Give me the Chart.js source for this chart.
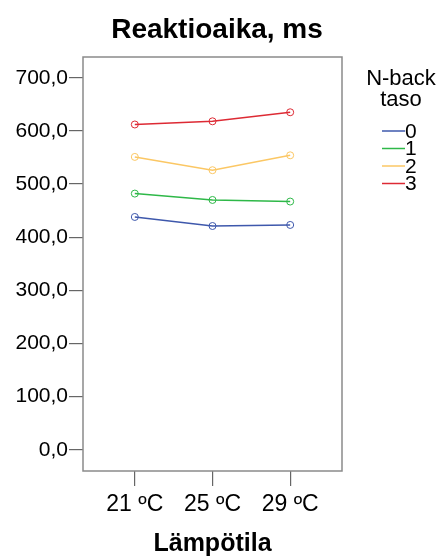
<!DOCTYPE html>
<html>
<head>
<meta charset="utf-8">
<script src="https://cdn.jsdelivr.net/npm/chart.js@4.4.1/dist/chart.umd.min.js"></script>
<style>
html,body{margin:0;padding:0;background:#fff;}
#c{display:block;}
</style>
</head>
<body>
<canvas id="c" width="443" height="559"></canvas>
<script>
const categories = ['21 ºC', '25 ºC', '29 ºC'];
const seriesNames = ['0', '1', '2', '3'];
const nback0 = [438, 421, 423];
const nback1 = [482, 470, 467];
const nback2 = [551, 526, 554];
const nback3 = [612, 618, 635];
const yTickValues = [0, 100, 200, 300, 400, 500, 600, 700];
const seriesColors = ['#3E58AC', '#2EB848', '#FBC764', '#DD2A34'];

const FONT = "'Liberation Sans', Arial, sans-serif";
const allSeries = [nback0, nback1, nback2, nback3];

const datasets = allSeries.map((vals, i) => ({
  label: seriesNames[i],
  data: vals.map((v, j) => ({x: j, y: v})),
  borderColor: seriesColors[i],
  borderWidth: 1.5,
  pointRadius: 3.5,
  pointBorderWidth: 1,
  pointBorderColor: seriesColors[i],
  pointBackgroundColor: 'rgba(255,255,255,0)',
  tension: 0,
  fill: false
}));

const decor = {
  id: 'decor',
  afterDraw(chart) {
    const ctx = chart.ctx;
    const a = chart.chartArea;
    ctx.save();
    // frame
    ctx.strokeStyle = '#8a8a8a';
    ctx.lineWidth = 1.5;
    ctx.strokeRect(a.left, a.top, a.right - a.left, a.bottom - a.top);
    // title
    ctx.fillStyle = '#000';
    ctx.font = 'bold 28px ' + FONT;
    ctx.textAlign = 'center';
    ctx.textBaseline = 'middle';
    ctx.fillText('Reaktioaika, ms', 217, 30);
    // legend header
    ctx.font = '22px ' + FONT;
    ctx.fillText('N-back', 401, 79);
    ctx.fillText('taso', 401, 100);
    // legend items
    const ys = [131, 148.5, 166, 183.5];
    seriesNames.forEach((n, i) => {
      ctx.strokeStyle = seriesColors[i];
      ctx.lineWidth = 1.5;
      ctx.beginPath();
      ctx.moveTo(382, ys[i]);
      ctx.lineTo(405, ys[i]);
      ctx.stroke();
      ctx.fillStyle = '#000';
      ctx.textAlign = 'left';
      ctx.font = '21px ' + FONT;
      ctx.fillText(n, 405, ys[i] + 1);
    });
    ctx.restore();
  }
};

new Chart(document.getElementById('c'), {
  type: 'line',
  data: { datasets },
  options: {
    responsive: false,
    animation: false,
    devicePixelRatio: 1,
    layout: { padding: { left: 0, top: 57, right: 101, bottom: 0 } },
    plugins: { legend: { display: false }, tooltip: { enabled: false }, title: { display: false } },
    scales: {
      x: {
        type: 'linear',
        min: -0.667,
        max: 2.667,
        afterBuildTicks(scale) { scale.ticks = categories.map((c, i) => ({ value: i })); },
        afterFit(scale) { scale.height = 88; },
        ticks: {
          callback: (v) => categories[v],
          font: { family: FONT, size: 23 },
          color: '#000',
          padding: 5,
          maxRotation: 0,
          autoSkip: false
        },
        grid: { display: true, drawOnChartArea: false, drawTicks: true, tickLength: 15, color: '#666', lineWidth: 1.2 },
        border: { display: false },
        title: { display: true, text: 'Lämpötila', color: '#000', font: { family: FONT, size: 25, weight: 'bold' }, padding: { top: 0, bottom: 0 } }
      },
      y: {
        type: 'linear',
        min: -40,
        max: 739,
        afterBuildTicks(scale) { scale.ticks = yTickValues.map(v => ({ value: v })); },
        afterFit(scale) { scale.width = 83; },
        ticks: {
          callback: (v) => v.toFixed(1).replace('.', ','),
          font: { family: FONT, size: 21 },
          color: '#000',
          padding: 1
        },
        grid: { display: true, drawOnChartArea: false, drawTicks: true, tickLength: 14, color: '#666', lineWidth: 1.2 },
        border: { display: false }
      }
    }
  },
  plugins: [decor]
});
</script>
</body>
</html>
